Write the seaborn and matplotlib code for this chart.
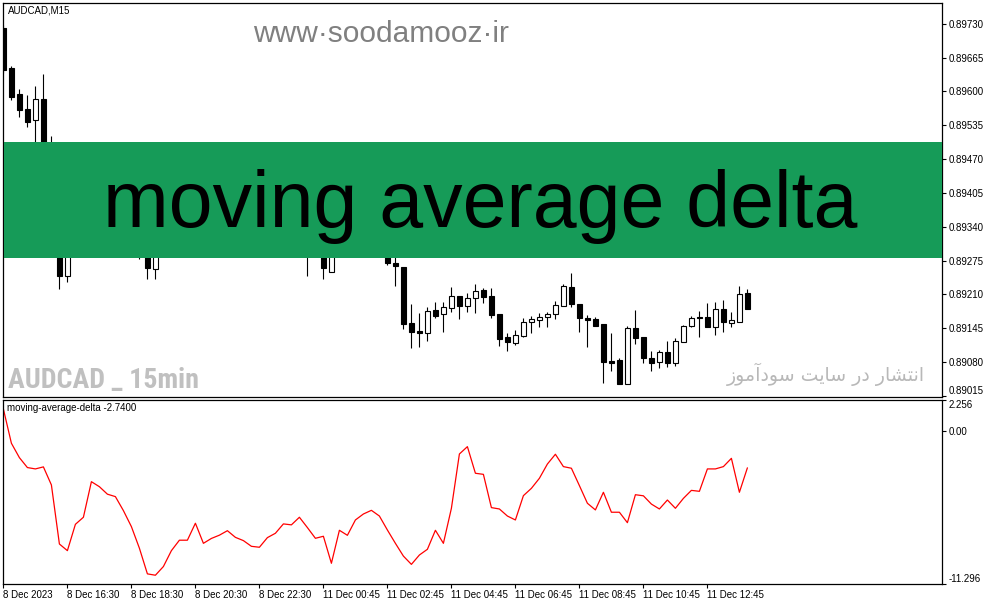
import matplotlib
matplotlib.use("Agg")
import matplotlib.pyplot as plt
import seaborn as sns
import pandas as pd
from matplotlib.patches import Rectangle

# AUDCAD M15 candles (bars hidden behind the banner are rough guesses)
opens = [0.89722, 0.89645, 0.89596, 0.89567, 0.89546, 0.89586, 0.89485, 0.89430, 0.89246, 0.89305,
         0.89340, 0.89365, 0.89350, 0.89320, 0.89335, 0.89310, 0.89320, 0.89300, 0.89295, 0.89259,
         0.89310, 0.89335, 0.89360, 0.89385, 0.89360, 0.89345, 0.89355, 0.89340, 0.89320, 0.89340,
         0.89365, 0.89355, 0.89330, 0.89310, 0.89325, 0.89345, 0.89320, 0.89305, 0.89300, 0.89290,
         0.89320, 0.89254, 0.89300, 0.89320, 0.89340, 0.89325, 0.89310, 0.89315, 0.89282, 0.89271,
         0.89263, 0.89156, 0.89140, 0.89136, 0.89181, 0.89173, 0.89184, 0.89208, 0.89188, 0.89204,
         0.89219, 0.89208, 0.89173, 0.89129, 0.89117, 0.89131, 0.89158, 0.89160, 0.89167, 0.89173,
         0.89188, 0.89225, 0.89192, 0.89165, 0.89163, 0.89154, 0.89083, 0.89085, 0.89038, 0.89146,
         0.89129, 0.89087, 0.89081, 0.89100, 0.89079, 0.89119, 0.89150, 0.89167, 0.89167, 0.89148,
         0.89183, 0.89156, 0.89158, 0.89213]
highs = [0.89728, 0.89649, 0.89605, 0.89594, 0.89611, 0.89634, 0.89515, 0.89445, 0.89320, 0.89350,
         0.89380, 0.89400, 0.89370, 0.89345, 0.89360, 0.89330, 0.89335, 0.89320, 0.89310, 0.89320,
         0.89345, 0.89370, 0.89395, 0.89400, 0.89380, 0.89370, 0.89375, 0.89360, 0.89350, 0.89375,
         0.89390, 0.89370, 0.89350, 0.89335, 0.89355, 0.89360, 0.89335, 0.89320, 0.89315, 0.89330,
         0.89335, 0.89310, 0.89330, 0.89350, 0.89360, 0.89340, 0.89325, 0.89330, 0.89300, 0.89290,
         0.89263, 0.89192, 0.89175, 0.89186, 0.89196, 0.89196, 0.89225, 0.89208, 0.89213, 0.89231,
         0.89223, 0.89223, 0.89173, 0.89136, 0.89142, 0.89165, 0.89169, 0.89175, 0.89177, 0.89198,
         0.89231, 0.89252, 0.89192, 0.89171, 0.89167, 0.89154, 0.89136, 0.89088, 0.89150, 0.89181,
         0.89129, 0.89102, 0.89104, 0.89121, 0.89127, 0.89152, 0.89169, 0.89179, 0.89194, 0.89196,
         0.89200, 0.89177, 0.89227, 0.89221]
lows = [0.89636, 0.89584, 0.89551, 0.89532, 0.89490, 0.89470, 0.89420, 0.89221, 0.89234, 0.89290,
        0.89320, 0.89340, 0.89310, 0.89295, 0.89300, 0.89290, 0.89292, 0.89279, 0.89240, 0.89240,
        0.89295, 0.89320, 0.89345, 0.89350, 0.89330, 0.89325, 0.89330, 0.89310, 0.89305, 0.89330,
        0.89345, 0.89320, 0.89300, 0.89295, 0.89315, 0.89315, 0.89295, 0.89290, 0.89246, 0.89285,
        0.89240, 0.89254, 0.89290, 0.89305, 0.89315, 0.89300, 0.89292, 0.89290, 0.89267, 0.89227,
        0.89144, 0.89108, 0.89110, 0.89121, 0.89165, 0.89138, 0.89177, 0.89163, 0.89177, 0.89175,
        0.89194, 0.89165, 0.89111, 0.89102, 0.89113, 0.89129, 0.89136, 0.89148, 0.89148, 0.89163,
        0.89188, 0.89186, 0.89138, 0.89110, 0.89150, 0.89040, 0.89062, 0.89038, 0.89038, 0.89115,
        0.89079, 0.89063, 0.89069, 0.89071, 0.89073, 0.89119, 0.89148, 0.89129, 0.89148, 0.89133,
        0.89138, 0.89148, 0.89158, 0.89183]
closes = [0.89642, 0.89590, 0.89565, 0.89542, 0.89586, 0.89485, 0.89430, 0.89246, 0.89305, 0.89340,
          0.89365, 0.89350, 0.89320, 0.89335, 0.89310, 0.89320, 0.89300, 0.89295, 0.89261, 0.89310,
          0.89335, 0.89360, 0.89385, 0.89360, 0.89345, 0.89355, 0.89340, 0.89320, 0.89340, 0.89365,
          0.89355, 0.89330, 0.89310, 0.89325, 0.89345, 0.89320, 0.89305, 0.89300, 0.89290, 0.89320,
          0.89261, 0.89300, 0.89320, 0.89340, 0.89325, 0.89310, 0.89315, 0.89295, 0.89271, 0.89265,
          0.89154, 0.89138, 0.89136, 0.89179, 0.89169, 0.89186, 0.89208, 0.89188, 0.89204, 0.89217,
          0.89206, 0.89171, 0.89125, 0.89119, 0.89133, 0.89158, 0.89163, 0.89167, 0.89173, 0.89190,
          0.89227, 0.89192, 0.89165, 0.89161, 0.89150, 0.89081, 0.89079, 0.89038, 0.89146, 0.89127,
          0.89088, 0.89079, 0.89100, 0.89079, 0.89121, 0.89150, 0.89165, 0.89165, 0.89148, 0.89183,
          0.89158, 0.89160, 0.89211, 0.89183]

# moving-average-delta indicator
delta = [1.59, -0.93, -1.99, -2.72, -2.82, -2.67, -4.00, -8.35, -8.84, -6.90,
         -6.38, -3.76, -4.13, -4.68, -4.86, -5.89, -7.07, -8.66, -10.55, -10.65,
         -10.01, -8.84, -8.07, -8.07, -6.82, -8.30, -7.94, -7.70, -7.37, -7.86,
         -8.10, -8.52, -8.59, -7.88, -7.56, -6.87, -6.94, -6.38, -7.14, -7.93,
         -7.78, -9.77, -7.34, -7.71, -6.58, -6.14, -5.87, -6.29, -7.32, -8.30,
         -9.24, -9.85, -9.16, -8.74, -7.34, -8.30, -5.72, -1.72, -1.18, -3.14,
         -3.22, -5.67, -5.77, -6.29, -6.58, -4.79, -4.25, -3.51, -2.46, -1.74,
         -2.65, -2.77, -4.05, -5.35, -5.84, -4.54, -6.01, -6.01, -6.78, -4.72,
         -4.80, -5.41, -5.77, -5.11, -5.72, -4.99, -4.40, -4.47, -2.82, -2.82,
         -2.65, -2.04, -4.54, -2.74]

date_labels = ["8 Dec 2023", "8 Dec 16:30", "8 Dec 18:30", "8 Dec 20:30", "8 Dec 22:30",
               "11 Dec 00:45", "11 Dec 02:45", "11 Dec 04:45", "11 Dec 06:45", "11 Dec 08:45",
               "11 Dec 10:45", "11 Dec 12:45"]
date_ticks = [0, 8, 16, 24, 32, 40, 48, 56, 64, 72, 80, 88]
price_ticks = [0.89730, 0.89665, 0.89600, 0.89535, 0.89470, 0.89405, 0.89340,
               0.89275, 0.89210, 0.89145, 0.89080, 0.89015]
delta_ticks = [2.256, 0.0, -11.296]
delta_labels = ["2.256", "0.00", "-11.296"]

df = pd.DataFrame({"bar": range(len(opens)), "open": opens, "high": highs,
                   "low": lows, "close": closes, "delta": delta})

sns.set_style("white")
plt.rcParams["font.family"] = ["Liberation Sans", "DejaVu Sans"]

W, H = 987, 605
fig = plt.figure(figsize=(W / 100, H / 100), dpi=100)
ax = fig.add_axes([3 / W, 208 / H, 939 / W, 394 / H])
ax2 = fig.add_axes([3 / W, 21 / H, 939 / W, 184 / H])

xmin = -0.05
xmax = xmin + 939 / 8

# candles
up = df["close"] >= df["open"]
ax.vlines(df["bar"], df["low"], df["high"], color="black", lw=0.8, zorder=2)
body_lo = df[["open", "close"]].min(axis=1)
body_h = (df["close"] - df["open"]).abs()
ax.bar(df["bar"][up], body_h[up], bottom=body_lo[up], width=0.62,
       color="white", edgecolor="black", lw=0.8, zorder=3)
ax.bar(df["bar"][~up], body_h[~up], bottom=body_lo[~up], width=0.62,
       color="black", edgecolor="black", lw=0.8, zorder=3)

ax.set_xlim(xmin, xmax)
ax.set_ylim(0.89013, 0.89770)
ax.set_xticks([])
ax.yaxis.tick_right()
ax.set_yticks(price_ticks)
ax.set_yticklabels([f"{p:.5f}" for p in price_ticks])
ax.get_yticklabels()[-1].set_va("bottom")

# green banner
ax.add_patch(Rectangle((0.001, 0.3528), 0.999, 0.2944, transform=ax.transAxes,
                       color="#169b58", zorder=10, lw=0))
ax.text(0.5085, 0.4315, "moving average delta", transform=ax.transAxes,
        ha="center", va="baseline", fontsize=56.8, color="black", zorder=11,
        family=["Liberation Sans", "DejaVu Sans"])

ax.text(0.0053, 0.982, "AUDCAD,M15", transform=ax.transAxes, ha="left", va="center",
        fontsize=7, color="black", zorder=12)
ax.text(0.266, 0.901, "www·soodamooz·ir", transform=ax.transAxes, ha="left",
        va="baseline", fontsize=21.5, color="#808080", zorder=12)
ax.text(0.0053, 0.0228, "AUDCAD _ 15min", transform=ax.transAxes, ha="left",
        va="baseline", fontsize=20.2, fontweight="bold", color="#c0c0c0", zorder=12,
        family=["Roboto Condensed", "Liberation Sans", "DejaVu Sans"])
# "انتشار در سایت سودآموز" written with presentation forms, visual order
fa_text = ("\uFEAF\uFEEE\uFEE3\uFE81\uFEA9\uFEEE\uFEB3 \uFE96\uFEF3\uFE8E\uFEB3 "
           "\uFEAD\uFEA9 \uFEAD\uFE8E\uFEB8\uFE98\uFEE7\uFE8D")
ax.text(0.982, 0.0406, fa_text, transform=ax.transAxes, ha="right", va="baseline",
        fontsize=13.6, color="#b8b8b8", zorder=12, family=["DejaVu Sans"])

# indicator panel
sns.lineplot(data=df, x="bar", y="delta", ax=ax2, color="red", lw=0.9)
ax2.set_xlim(xmin, xmax)
ax2.set_ylim(-11.296, 2.256)
ax2.set_xlabel("")
ax2.set_ylabel("")
ax2.yaxis.tick_right()
ax2.set_yticks(delta_ticks)
ax2.set_yticklabels(delta_labels)
ylabs = ax2.get_yticklabels()
ylabs[0].set_va("top")
ylabs[-1].set_va("bottom")
ax2.set_xticks(date_ticks)
ax2.set_xticklabels(date_labels, ha="left")
ax2.text(0.004, 0.957, "moving-average-delta -2.7400", transform=ax2.transAxes,
         ha="left", va="center", fontsize=7, color="black")

for a in (ax, ax2):
    for s in a.spines.values():
        s.set_visible(True)
        s.set_color("black")
        s.set_linewidth(0.9)
    a.tick_params(axis="y", which="both", right=True, left=False, direction="out",
                  length=3, width=0.8, colors="black", labelsize=7, pad=1.5)
    a.set_facecolor("white")
ax2.tick_params(axis="x", bottom=True, direction="out", length=3, width=0.8,
                colors="black", labelsize=7, pad=1.5)

fig.savefig("out.png", dpi=100, facecolor="white")
